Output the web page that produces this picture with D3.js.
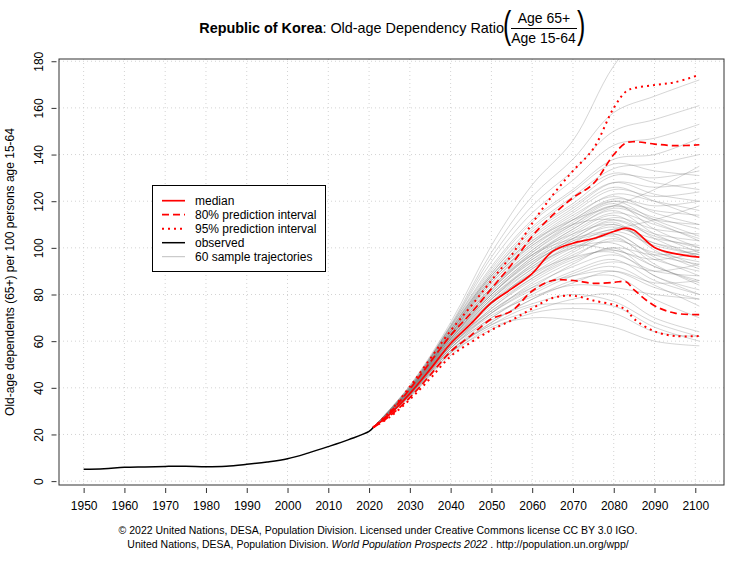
<!DOCTYPE html>
<html><head><meta charset="utf-8">
<script src="https://cdn.jsdelivr.net/npm/d3@7"></script>
<style>body{margin:0;background:#fff} text{font-family:"Liberation Sans",Arial,Helvetica,sans-serif}</style>
</head><body><svg id="c" width="755" height="566"></svg>
<script>
// ---------------- data ----------------
const obsYears  = [1950,1955,1960,1965,1970,1975,1980,1985,1990,1995,2000,2005,2010,2015,2020,2021];
const obsValues = [5.1,5.3,5.9,6.1,6.3,6.4,6.2,6.4,7.2,8.2,9.6,12.0,14.8,17.8,21.3,23.0];

const projYears = [2021,2025,2030,2035,2040,2045,2050,2055,2060,2065,2070,2075,2080,2083,2085,2090,2095,2101];
const median    = [23,28.5,37.5,48,59,67.5,76.5,82.5,89,98.5,102,104,107,108.5,107.5,100.2,97.5,96];
const upper80   = [23,29.2,39.5,51,62.5,72,82.5,93,105,114,121.5,127.5,140,145,145.5,144.5,143.8,144.2];
const lower80   = [23,27.8,35.8,45.5,55.5,62.5,69.5,73,81.5,86,86,84.8,85.2,85.5,82,75.2,72,71.4];
const upper95   = [23,29.6,40.5,52.5,64.5,75,86,97,110.5,122.5,133,142.5,160,167,168.5,169.8,171,174.2];
const lower95   = [23,27.4,35,44,53.5,59.5,64.8,69,74,78.5,79.5,77.4,75.6,73.5,69.5,64.2,62.2,62.2];

const trajYears = [2021,2030,2040,2050,2060,2070,2080,2090,2101];
const sampleTrajectories = [
 [23,36.0,54,66,70,69,66,60,58],
 [23,36.5,55,67,73,78,80,70,64],
 [23,37.0,56,69,76,80,77,68,62],
 [23,36.2,55,68,78,86,88,78,70],
 [23,37.5,57,71,79,84,83,80,78],
 [23,37.0,57,70,80,88,92,84,75],
 [23,37.2,58,72,82,90,95,86,80],
 [23,37.8,58,73,84,92,97,90,88],
 [23,36.8,57,72,83,93,100,88,82],
 [23,37.5,58,74,86,95,99,92,85],
 [23,38.0,59,75,87,96,104,95,90],
 [23,37.3,58,74,87,97,103,98,94],
 [23,37.6,59,76,88,98,106,96,88],
 [23,38.2,60,77,89,99,107,101,97],
 [23,37.4,59,76,90,100,105,93,84],
 [23,38.0,60,78,91,101,108,104,101],
 [23,37.8,59.5,77,91,102,110,100,92],
 [23,38.4,61,79,92,103,109,102,99],
 [23,37.7,60,78,93,104,112,106,103],
 [23,38.1,60.5,79,93,104,111,99,91],
 [23,38.5,61,80,94,105,113,108,106],
 [23,38.0,61,80,95,106,114,104,96],
 [23,38.6,62,81,96,107,115,110,104],
 [23,38.3,61.5,81,96,108,116,106,98],
 [23,38.7,62,82,97,108,117,112,110],
 [23,38.2,61,80,95,103,106,97,93],
 [23,38.9,62.5,83,98,109,118,113,108],
 [23,38.5,62,82,98,110,119,108,100],
 [23,39.0,63,84,99,111,120,116,114],
 [23,38.8,62.5,83,99,110,118,111,103],
 [23,39.2,63,85,100,112,121,118,120],
 [23,38.6,62,82,97,106,110,102,97],
 [23,39.3,63.5,86,102,113,123,120,116],
 [23,39.0,63,85,101,112,120,112,105],
 [23,39.5,64,87,103,115,125,122,124],
 [23,39.1,63,86,102,114,122,115,110],
 [23,39.6,64,88,105,117,128,126,128],
 [23,39.4,64,87,104,116,126,120,113],
 [23,39.8,65,89,107,119,131,130,133],
 [23,39.5,64.5,88,106,118,128,123,120],
 [23,40.0,65.5,90,109,122,134,136,140],
 [23,39.7,65,89,108,121,132,128,125],
 [23,40.2,66,92,112,125,138,140,147],
 [23,40.0,66,91,111,124,136,133,131],
 [23,40.4,66.5,94,115,129,144,147,153],
 [23,40.5,66.5,96,118,133,150,155,161],
 [23,40.8,67,98,122,138,158,165,172],
 [23,41.0,68,101,127,146,178,198,210],
 [23,37.0,56,67,75,76,75,66,60],
 [23,36.6,55,65,72,74,72,64,62],
 [23,36.9,56,68,78,85,90,85,86],
 [23,37.4,57,70,81,89,94,90,93],
 [23,37.9,58,72,85,94,100,97,99],
 [23,38.3,60,76,89,96,98,88,80],
 [23,38.7,61,78,92,100,102,92,86],
 [23,39.0,62,80,94,101,99,95,98],
 [23,39.3,63,83,97,104,108,112,118],
 [23,38.1,59,73,83,88,90,83,78],
 [23,39.6,64,86,101,110,112,105,100],
 [23,40.1,65,88,103,112,118,125,135]
];

const xTicks = [1950,1960,1970,1980,1990,2000,2010,2020,2030,2040,2050,2060,2070,2080,2090,2100];
const yTicks = [0,20,40,60,80,100,120,140,160,180];
const legendLabels = ["median","80% prediction interval","95% prediction interval","observed","60 sample trajectories"];

// ---------------- layout ----------------
const L = 59, R = 724, T = 59, B = 485;
const svg = d3.select("#c");

const xr = [1950, 2101], xe = 0.04 * (xr[1] - xr[0]);
const x = d3.scaleLinear().domain([xr[0] - xe, xr[1] + xe]).range([L, R]);
const yLo = d3.min(obsValues), yHi = d3.max(upper95), ye = 0.04 * (yHi - yLo);
const y = d3.scaleLinear().domain([yLo - ye, yHi + ye]).range([B, T]);

svg.append("defs").append("clipPath").attr("id","clip")
  .append("rect").attr("x",L).attr("y",T).attr("width",R-L).attr("height",B-T);

// grid
const grid = svg.append("g").attr("stroke","#d3d3d3").attr("stroke-dasharray","1,3").attr("stroke-width",1);
grid.selectAll(".gx").data(xTicks).join("line")
  .attr("x1",d=>x(d)).attr("x2",d=>x(d)).attr("y1",T).attr("y2",B);
grid.selectAll(".gy").data(yTicks).join("line")
  .attr("y1",d=>y(d)).attr("y2",d=>y(d)).attr("x1",L).attr("x2",R);

const plot = svg.append("g").attr("clip-path","url(#clip)");

const lineT = d3.line().x((d,i)=>x(trajYears[i])).y(d=>y(d)).curve(d3.curveCatmullRom.alpha(0.5));
plot.append("g").selectAll("path").data(sampleTrajectories).join("path")
  .attr("d", lineT).attr("fill","none").attr("stroke","#808080").attr("stroke-opacity",0.33).attr("stroke-width",1);

const lineO = d3.line().x((d,i)=>x(obsYears[i])).y(d=>y(d)).curve(d3.curveCatmullRom.alpha(0.5));
plot.append("path").attr("d", lineO(obsValues)).attr("fill","none").attr("stroke","#000").attr("stroke-width",1.5);

const lineP = d3.line().x((d,i)=>x(projYears[i])).y(d=>y(d)).curve(d3.curveCatmullRom.alpha(0.5));
const red = "#ff0000";
[[upper95,"2,4"],[lower95,"2,4"],[upper80,"7,4"],[lower80,"7,4"],[median,null]].forEach(([arr,dash])=>{
  const p = plot.append("path").attr("d", lineP(arr)).attr("fill","none").attr("stroke",red)
    .attr("stroke-width", dash === "2,4" ? 2 : 1.7);
  if (dash) p.attr("stroke-dasharray",dash);
});

// box
svg.append("rect").attr("x",L).attr("y",T).attr("width",R-L).attr("height",B-T)
  .attr("fill","none").attr("stroke","#333").attr("stroke-width",1);

// x axis
const ax = svg.append("g").attr("transform",`translate(0,${B+3})`)
  .call(d3.axisBottom(x).tickValues(xTicks).tickSize(5).tickPadding(8).tickFormat(d3.format("d")));
ax.select(".domain").remove();
ax.selectAll("line").attr("stroke","#333");
ax.selectAll("text").attr("font-size",12).attr("font-family",'"Liberation Sans",Arial,sans-serif').attr("fill","#000");

// y axis
const ay = svg.append("g").attr("transform",`translate(${L-2.5},0)`)
  .call(d3.axisLeft(y).tickValues(yTicks).tickSize(5));
ay.select(".domain").remove();
ay.selectAll("line").attr("stroke","#333");
ay.selectAll("text").attr("x",null).attr("dy",null).attr("text-anchor","middle")
  .attr("transform","translate(-14,0) rotate(-90)")
  .attr("font-size",12).attr("font-family",'"Liberation Sans",Arial,sans-serif').attr("fill","#000");

// y label
svg.append("text").attr("transform",`translate(14,${(T+B)/2}) rotate(-90)`).attr("text-anchor","middle")
  .attr("font-size",12).text("Old-age dependents (65+) per 100 persons age 15-64");

// title
const tt = svg.append("text").attr("x",504).attr("y",33).attr("text-anchor","end").attr("font-size",14.4);
tt.append("tspan").attr("font-weight","bold").text("Republic of Korea");
tt.append("tspan").text(": Old-age Dependency Ratio");
svg.append("text").attr("transform","translate(503,38) scale(1,1.55)").attr("font-size",25).text("(");
svg.append("text").attr("transform","translate(577,38) scale(1,1.55)").attr("font-size",25).text(")");
svg.append("text").attr("x",544).attr("y",23).attr("text-anchor","middle").attr("font-size",14).text("Age 65+");
svg.append("text").attr("x",543.5).attr("y",43).attr("text-anchor","middle").attr("font-size",14).text("Age 15-64");
svg.append("line").attr("x1",511).attr("x2",577).attr("y1",28.5).attr("y2",28.5).attr("stroke","#000").attr("stroke-width",1);

// legend
const lg = svg.append("g");
lg.append("rect").attr("x",152.5).attr("y",185.5).attr("width",173).attr("height",86)
  .attr("fill","#fff").attr("stroke","#000").attr("stroke-width",1);
const lgStyles = [[red,null,1.7,1],[red,"7,4",1.7,1],[red,"2,4",2,1],["#000",null,1.5,1],["#808080",null,1,0.5]];
legendLabels.forEach((lab,i)=>{
  const yy = 200.7 + i*14;
  const [c,dash,w,op] = lgStyles[i];
  const ln = lg.append("line").attr("x1",162).attr("x2",185).attr("y1",yy).attr("y2",yy)
    .attr("stroke",c).attr("stroke-width",w).attr("stroke-opacity",op);
  if (dash) ln.attr("stroke-dasharray",dash);
  lg.append("text").attr("x",195).attr("y",yy).attr("dy","0.35em").attr("font-size",12).text(lab);
});

// footer
svg.append("text").attr("x",378).attr("y",534).attr("text-anchor","middle").attr("font-size",10.5)
  .text("© 2022 United Nations, DESA, Population Division. Licensed under Creative Commons license CC BY 3.0 IGO.");
const f2 = svg.append("text").attr("x",378).attr("y",548).attr("text-anchor","middle").attr("font-size",10.5);
f2.append("tspan").text("United Nations, DESA, Population Division. ");
f2.append("tspan").attr("font-style","italic").text("World Population Prospects 2022");
f2.append("tspan").text(" . http://population.un.org/wpp/");
</script></body></html>
